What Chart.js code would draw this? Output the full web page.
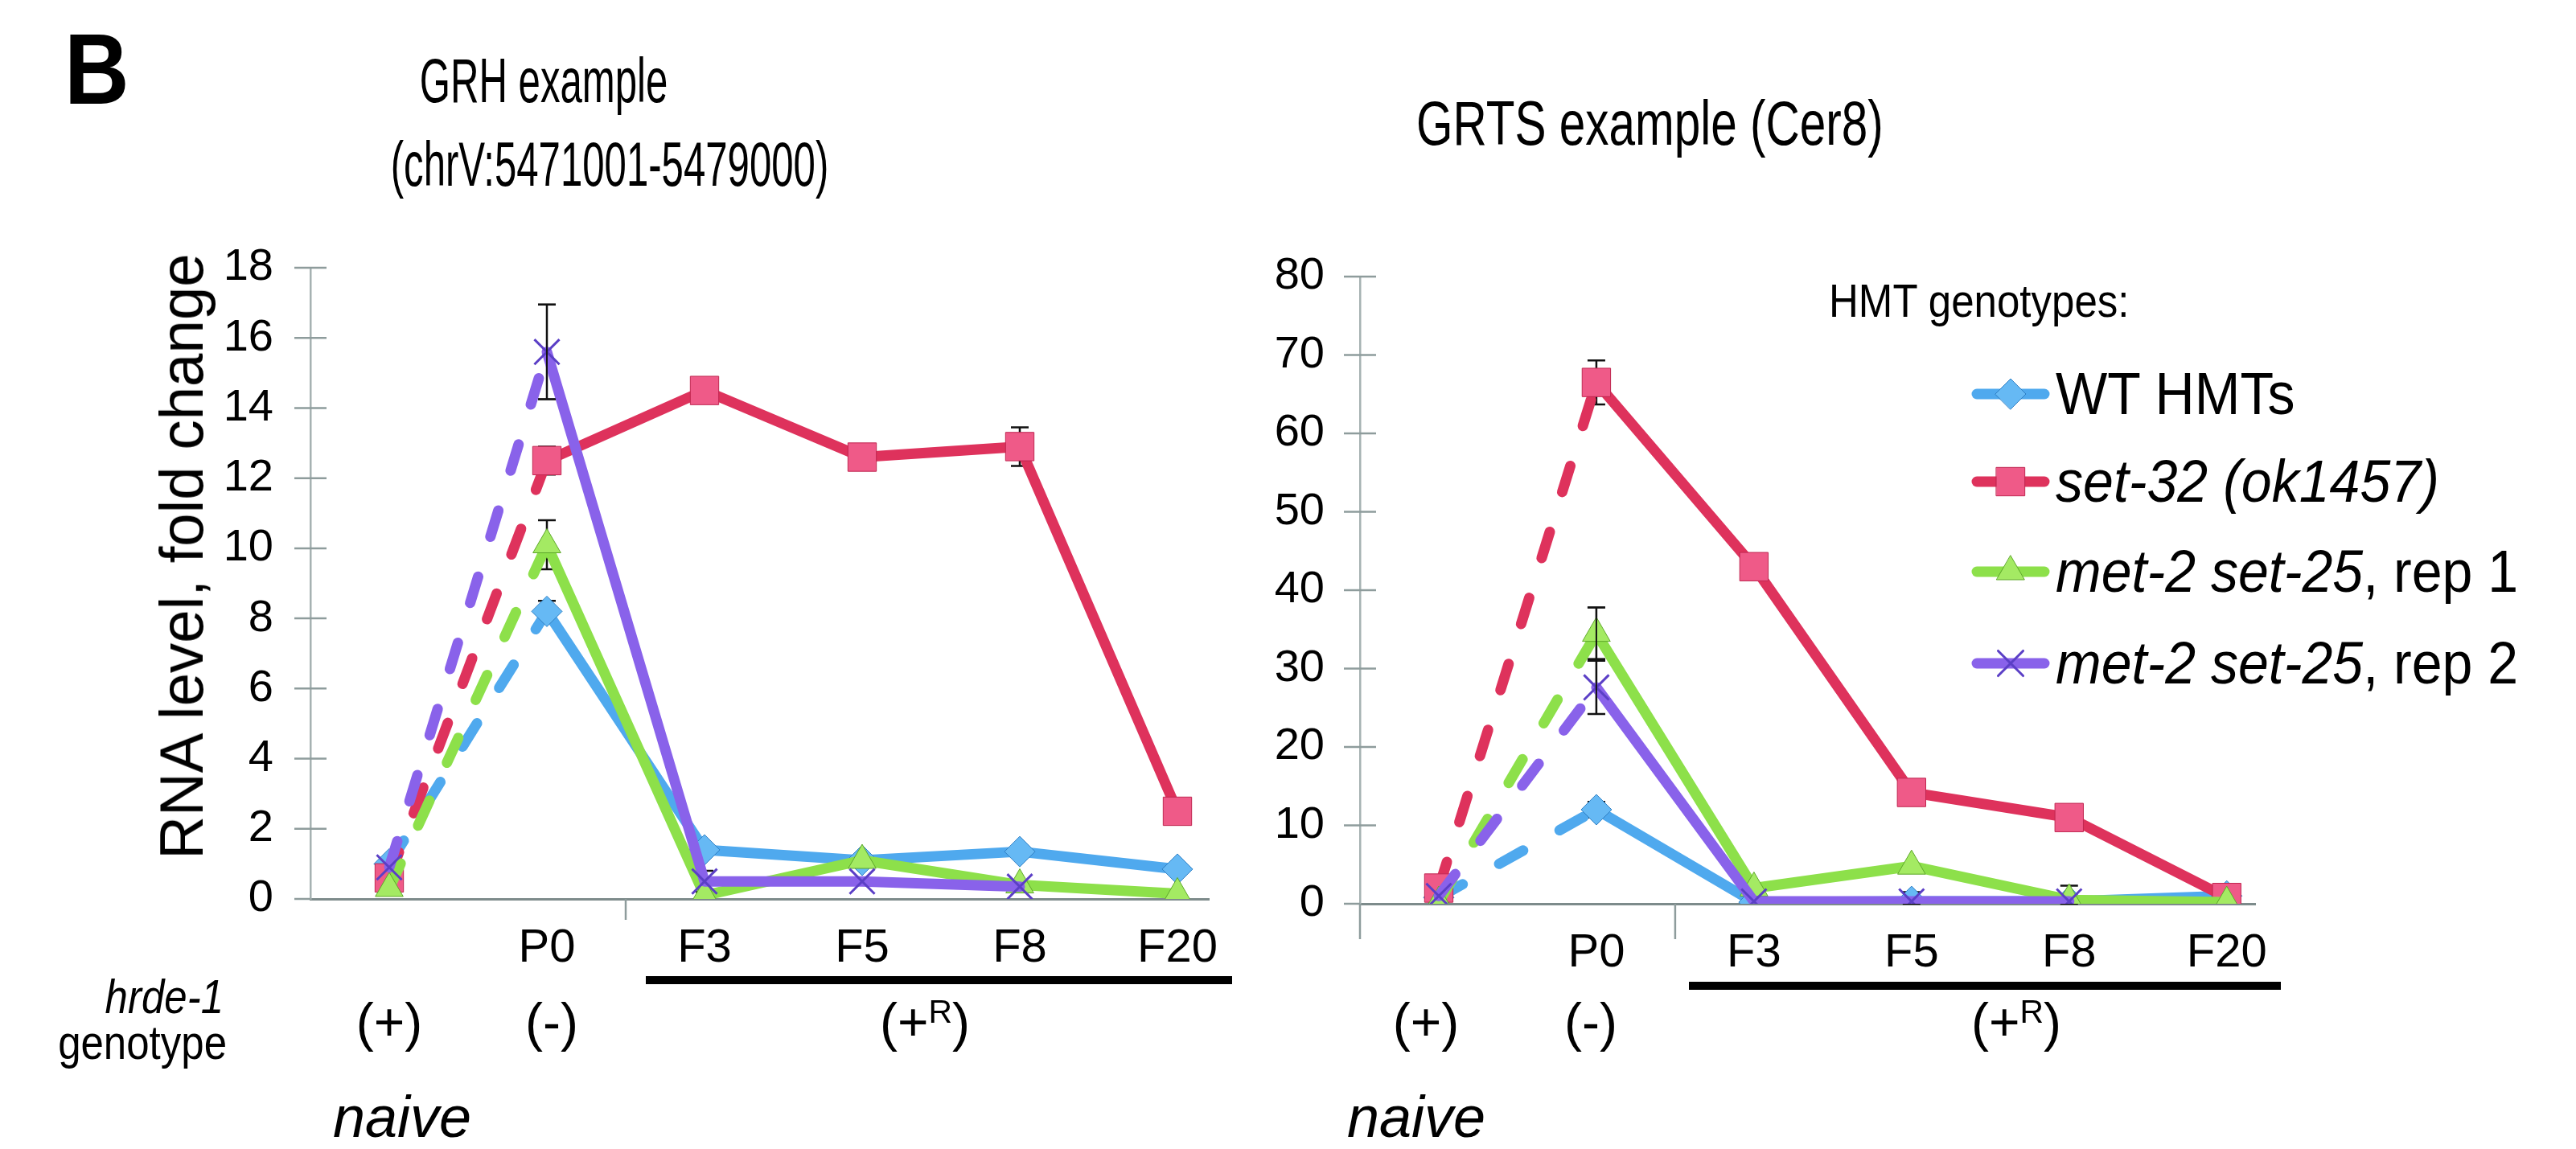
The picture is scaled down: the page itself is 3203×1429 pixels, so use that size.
<!DOCTYPE html>
<html><head><meta charset="utf-8">
<script src="https://cdn.jsdelivr.net/npm/chart.js@4.4.1/dist/chart.umd.min.js"></script>
<style>
html,body{margin:0;padding:0;background:#fff;}
#wrap{position:relative;width:3203px;height:1429px;overflow:hidden;font-family:'Liberation Sans',Arial,Helvetica,sans-serif;color:#000;background:#fff;}
canvas{position:absolute;top:0;}
.t{position:absolute;white-space:nowrap;line-height:1;}
.bar{position:absolute;background:#000;height:10px;}
.leg{position:absolute;left:2450px;}
.leg canvas{position:absolute;left:0;}
sup{font-size:0.62em;vertical-align:0.55em;line-height:0;}
</style></head>
<body><div id="wrap">
<canvas id="c1" width="1560" height="1429" style="left:0px;width:1560px;height:1429px"></canvas>
<canvas id="c2" width="1643" height="1429" style="left:1560px;width:1643px;height:1429px"></canvas>

<div class="t" style="left:80px;top:24px;font-size:124px;font-weight:bold;transform:scaleX(0.9);transform-origin:0 0;">B</div>
<div class="t" style="left:676px;top:100px;font-size:78px;transform:translate(-50%,-50%) scaleX(0.63);">GRH example</div>
<div class="t" style="left:758px;top:204px;font-size:78px;transform:translate(-50%,-50%) scaleX(0.63);">(chrV:5471001-5479000)</div>
<div class="t" style="left:1761px;top:153px;font-size:78px;transform:translate(0,-50%) scaleX(0.75);transform-origin:0 50%;">GRTS example (Cer8)</div>
<div class="t" style="left:226px;top:692px;font-size:76px;transform:translate(-50%,-50%) rotate(-90deg) scaleX(0.98);">RNA level, fold change</div>

<div class="t" style="left:278px;top:1240px;font-size:60px;font-style:italic;transform:translate(-100%,-50%) scaleX(0.85);transform-origin:100% 50%;">hrde-1</div>
<div class="t" style="left:282px;top:1297px;font-size:60px;transform:translate(-100%,-50%) scaleX(0.85);transform-origin:100% 50%;">genotype</div>
<div class="t" style="left:484px;top:1271px;font-size:66px;transform:translate(-50%,-50%);">(+)</div>
<div class="t" style="left:686px;top:1271px;font-size:66px;transform:translate(-50%,-50%);">(-)</div>
<div class="t" style="left:1150px;top:1271px;font-size:66px;transform:translate(-50%,-50%);">(+<sup>R</sup>)</div>
<div class="t" style="left:500px;top:1389px;font-size:72px;font-style:italic;transform:translate(-50%,-50%);">naive</div>
<div class="bar" style="left:803px;width:729px;top:1214px;"></div>

<div class="t" style="left:1773px;top:1271px;font-size:66px;transform:translate(-50%,-50%);">(+)</div>
<div class="t" style="left:1978px;top:1271px;font-size:66px;transform:translate(-50%,-50%);">(-)</div>
<div class="t" style="left:2507px;top:1271px;font-size:66px;transform:translate(-50%,-50%);">(+<sup>R</sup>)</div>
<div class="t" style="left:1761px;top:1389px;font-size:72px;font-style:italic;transform:translate(-50%,-50%);">naive</div>
<div class="bar" style="left:2100px;width:736px;top:1221px;"></div>

<div class="t" style="left:2274px;top:374px;font-size:58px;transform:translate(0,-50%) scaleX(0.88);transform-origin:0 50%;">HMT genotypes:</div>
<div id="legend"></div>
</div>
<script>
// ---- data ----
const categories = ['', 'P0', 'F3', 'F5', 'F8', 'F20'];
const seriesNames = ['WT HMTs', 'set-32 (ok1457)', 'met-2 set-25, rep 1', 'met-2 set-25, rep 2'];
const legendHtml = ['WT HMTs', '<i>set-32 (ok1457)</i>', '<i>met-2 set-25</i>, rep 1', '<i>met-2 set-25</i>, rep 2'];

// GRH example (chrV:5471001-5479000)
const grhWT    = [1.0, 8.2, 1.4, 1.1, 1.35, 0.85];
const grhSet32 = [0.6, 12.5, 14.5, 12.6, 12.9, 2.5];
const grhRep1  = [0.3, 10.1, 0.1, 1.1, 0.4, 0.15];
const grhRep2  = [0.9, 15.6, 0.5, 0.5, 0.35, null];
const grhWTErr    = [0, 0.3, 0, 0, 0, 0];
const grhSet32Err = [0, 0.4, 0, 0.25, 0.55, 0];
const grhRep1Err  = [0, 0.7, 0, 0, 0, 0];
const grhRep2Err  = [0, 1.35, 0.3, 0, 0, 0];
const grhYTicks = [0, 2, 4, 6, 8, 10, 12, 14, 16, 18];

// GRTS example (Cer8)
const grtsWT    = [0.8, 12.0, 0.2, 0.3, 0.3, 1.0];
const grtsSet32 = [2.0, 66.5, 43.0, 14.2, 11.0, 0.8];
const grtsRep1  = [0.2, 34.5, 2.0, 4.8, 0.5, 0.2];
const grtsRep2  = [1.0, 27.6, 0.3, 0.3, 0.3, null];
const grtsWTErr    = [0, 1.0, 0, 0, 0, 0];
const grtsSet32Err = [0, 2.8, 0, 0, 0, 0];
const grtsRep1Err  = [0, 3.3, 0, 0, 1.8, 0];
const grtsRep2Err  = [0, 3.4, 0, 1.2, 0, 0];
const grtsYTicks = [0, 10, 20, 30, 40, 50, 60, 70, 80];

// ---- styles ----
const styles = [
  {line:'#4fa9ee', fill:'#66b9f4', edge:'#2f7fc4', shape:'rectRot', r:19, bw:1},
  {line:'#de325c', fill:'#ef5a88', edge:'#c02650', shape:'rect', r:25, bw:1},
  {line:'#8de04a', fill:'#a4ea63', edge:'#5ea82a', shape:'triangle', r:20, bw:1},
  {line:'#8962ea', fill:'#8962ea', edge:'#5b3fc6', shape:'crossRot', r:22, bw:3}
];
const DASH = [34, 52];
const TICK_FONT = "'Liberation Sans', Arial, sans-serif";

function makeDatasets(series){
  return series.map((arr, i) => ({
    label: seriesNames[i],
    data: arr.map((v, k) => ({x: k, y: v})),
    borderColor: styles[i].line,
    borderWidth: 13,
    borderCapStyle: 'round',
    borderJoinStyle: 'round',
    pointStyle: styles[i].shape,
    pointRadius: styles[i].r,
    pointHoverRadius: styles[i].r,
    pointBackgroundColor: styles[i].fill,
    pointBorderColor: styles[i].edge,
    pointBorderWidth: styles[i].bw,
    tension: 0,
    spanGaps: false,
    order: 3 - i,
    segment: { borderDash: ctx => ctx.p0DataIndex === 0 ? DASH : undefined }
  }));
}

function drawErr(ctx, x, y, p, e, cap){
  const px = x.getPixelForValue(p.x);
  const t = y.getPixelForValue(p.y + e);
  const b = y.getPixelForValue(Math.max(p.y - e, 0));
  ctx.beginPath();
  ctx.moveTo(px, t); ctx.lineTo(px, b);
  ctx.moveTo(px - cap, t); ctx.lineTo(px + cap, t);
  ctx.moveTo(px - cap, b); ctx.lineTo(px + cap, b);
  ctx.stroke();
}

const decor = {
  id: 'decor',
  beforeDatasetsDraw(chart, args, o){
    const {ctx} = chart, x = chart.scales.x, y = chart.scales.y;
    ctx.save();
    ctx.strokeStyle = '#8e9c9c'; ctx.lineWidth = 2.5;
    y.ticks.forEach(t => {
      const py = y.getPixelForValue(t.value);
      ctx.beginPath(); ctx.moveTo(x.left - o.tickLen, py);
      ctx.lineTo(t.value === y.min ? x.left : x.left + o.tickLen, py); ctx.stroke();
    });
    const bx = x.getPixelForValue(o.boundary);
    ctx.beginPath(); ctx.moveTo(bx, y.bottom); ctx.lineTo(bx, y.bottom + o.boundaryLen); ctx.stroke();
    if (o.axisExt) { ctx.beginPath(); ctx.moveTo(x.left, y.bottom); ctx.lineTo(x.left, y.bottom + o.axisExt); ctx.stroke(); }
    ctx.strokeStyle = '#111'; ctx.lineWidth = 2.5;
    chart.data.datasets.forEach((ds, i) => ds.data.forEach((p, k) => {
      if (p.y !== null && o.errors[i][k]) drawErr(ctx, x, y, p, o.errors[i][k], o.cap);
    }));
    ctx.restore();
  },
  afterDatasetsDraw(chart, args, o){
    const {ctx} = chart, x = chart.scales.x, y = chart.scales.y;
    ctx.save();
    ctx.strokeStyle = '#111'; ctx.lineWidth = 2;
    chart.data.datasets.forEach((ds, i) => ds.data.forEach((p, k) => {
      const e = o.errors[i][k];
      if (p.y !== null && e && e >= o.bigErr) drawErr(ctx, x, y, p, e, o.cap);
    }));
    ctx.restore();
  }
};

function makeChart(id, series, errors, yTicks, yMax, xMax, pad, yWidth, labelPad, boundaryLen, axisExt, bigErr){
  return new Chart(document.getElementById(id), {
    type: 'line',
    data: { datasets: makeDatasets(series) },
    plugins: [decor],
    options: {
      responsive: false, animation: false,
      layout: { padding: pad },
      plugins: { legend: {display:false}, tooltip: {enabled:false},
        decor: { errors: errors, tickLen: 20, boundary: 1.5, boundaryLen: boundaryLen, axisExt: axisExt, cap: 11, bigErr: bigErr } },
      scales: {
        x: { type: 'linear', min: -0.5, max: xMax,
          afterBuildTicks: s => { s.ticks = categories.map((c, k) => ({value: k})); },
          afterFit: s => { s.height = 100; },
          grid: { display: false, drawTicks: false },
          border: { display: true, color: '#7d8b8b', width: 3 },
          ticks: { autoSkip: false, maxRotation: 0, padding: 27, color: '#000',
            font: { family: TICK_FONT, size: 58 },
            callback: v => categories[v] } },
        y: { type: 'linear', min: 0, max: yMax,
          afterBuildTicks: s => { s.ticks = yTicks.map(v => ({value: v})); },
          afterFit: s => { s.width = yWidth; },
          grid: { display: false, drawTicks: false },
          border: { display: true, color: '#a6b2b2', width: 2.5 },
          ticks: { padding: labelPad, color: '#000',
            font: { family: TICK_FONT, size: 56 } } }
      }
    }
  });
}

makeChart('c1', [grhWT, grhSet32, grhRep1, grhRep2], [grhWTErr, grhSet32Err, grhRep1Err, grhRep2Err],
  grhYTicks, 18, 5.199, {top: 333, right: 57, bottom: 211, left: 0}, 386, 46, 26, 0, 1);
makeChart('c2', [grtsWT, grtsSet32, grtsRep1, grtsRep2], [grtsWTErr, grtsSet32Err, grtsRep1Err, grtsRep2Err],
  grtsYTicks, 80, 5.18, {top: 344, right: 399, bottom: 205, left: 0}, 131, 44, 44, 44, 3);

// ---- legend (built from the series styles) ----
const legRows = [490, 599, 711, 825];
const legend = document.getElementById('legend');
seriesNames.forEach((n, i) => {
  const row = document.createElement('div');
  row.className = 'leg';
  row.style.top = (legRows[i] - 30) + 'px';
  const cv = document.createElement('canvas');
  cv.width = 100; cv.height = 60; cv.style.top = '0px';
  row.appendChild(cv);
  const txt = document.createElement('div');
  txt.className = 't';
  txt.style.left = '106px'; txt.style.top = '30px'; txt.style.fontSize = '74px';
  txt.style.transform = 'translate(0,-50%) scaleX(0.92)';
  txt.style.transformOrigin = '0 50%';
  txt.innerHTML = legendHtml[i];
  row.appendChild(txt);
  legend.appendChild(row);
  const c = cv.getContext('2d');
  c.strokeStyle = styles[i].line; c.lineWidth = 13; c.lineCap = 'round';
  c.beginPath(); c.moveTo(8, 30); c.lineTo(92, 30); c.stroke();
  c.fillStyle = styles[i].fill; c.strokeStyle = styles[i].edge; c.lineWidth = styles[i].bw;
  if (Chart.helpers && Chart.helpers.drawPoint) {
    Chart.helpers.drawPoint(c, {pointStyle: styles[i].shape, radius: styles[i].r, borderWidth: styles[i].bw, rotation: 0}, 50, 30);
  }
});
</script>
</body></html>
